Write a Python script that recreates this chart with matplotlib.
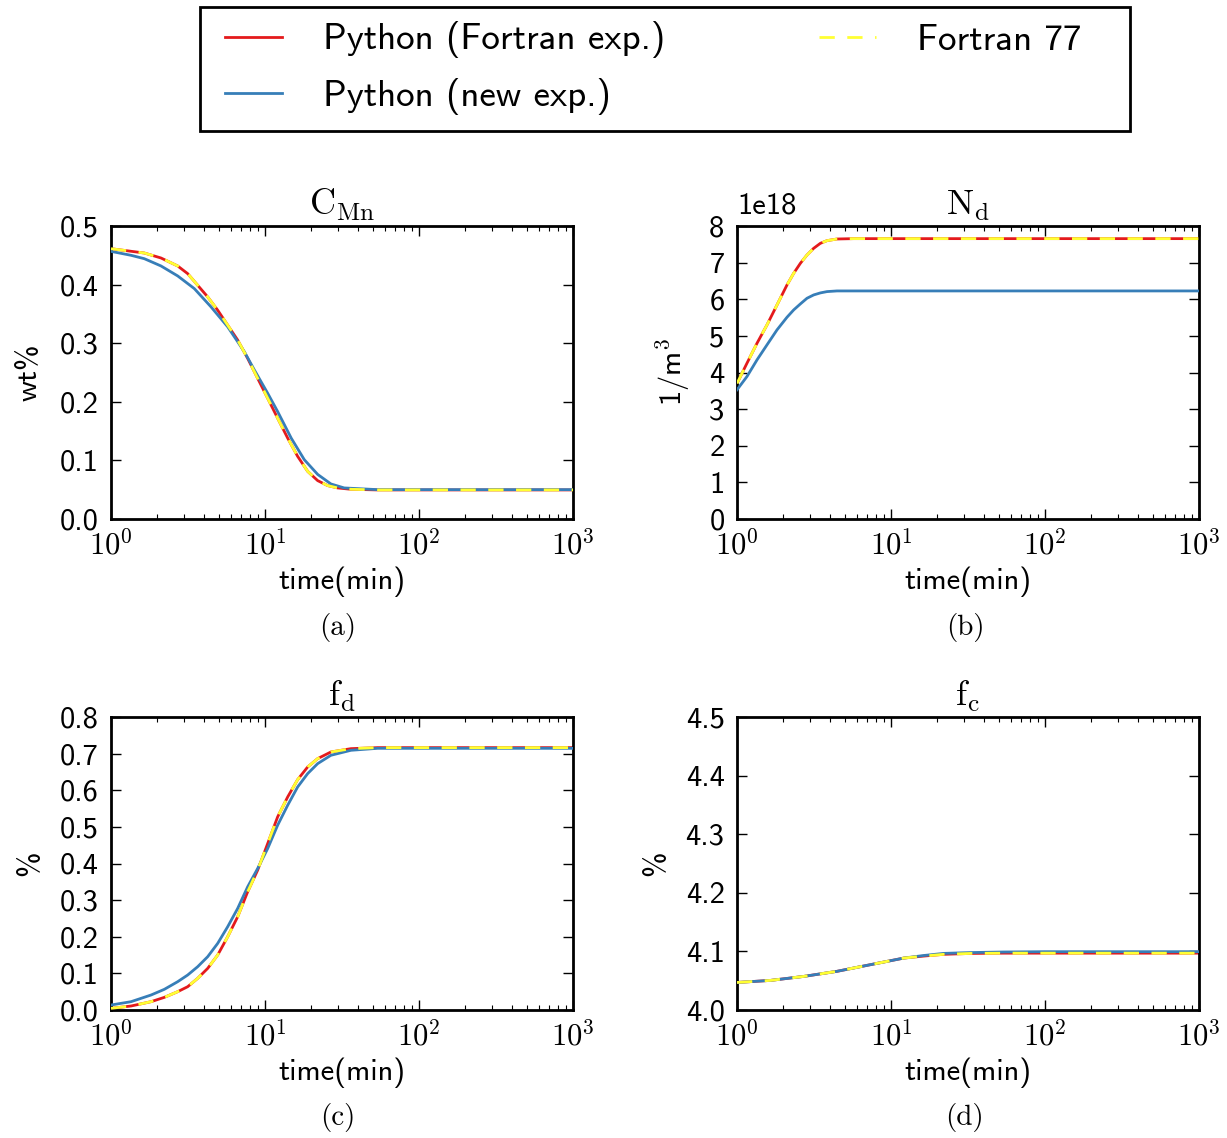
import math
import matplotlib
matplotlib.use("Agg")
import matplotlib.pyplot as plt
from matplotlib.ticker import FuncFormatter, NullFormatter, MultipleLocator
from matplotlib.lines import Line2D
from matplotlib.patches import Rectangle

plt.rcParams['font.family'] = ['cmss10', 'DejaVu Sans']
plt.rcParams['mathtext.fontset'] = 'cm'
plt.rcParams['axes.unicode_minus'] = False

# ---------------- data ----------------
# (a) C_Mn (wt%)
t_a_fortran = [1, 1.646, 2.112, 2.71, 3.147, 3.654, 4.244, 4.928, 5.722, 6.645, 7.716, 8.961,
               10.41, 12.08, 14.04, 16.30, 18.93, 21.98, 25.52, 29.64, 36.17, 53.9, 100, 1000]
cmn_fortran_exp = [0.4613, 0.4539, 0.4454, 0.4318, 0.4187, 0.3989, 0.3790, 0.3564, 0.3309,
                   0.3054, 0.2741, 0.2400, 0.2060, 0.1720, 0.1380, 0.1068, 0.0813, 0.0655,
                   0.0570, 0.0530, 0.0507, 0.0496, 0.0496, 0.0496]
cmn_f77 = [0.4613, 0.4539, 0.4454, 0.4318, 0.4187, 0.3989, 0.3790, 0.3564, 0.3309,
           0.3054, 0.2741, 0.2400, 0.2060, 0.1720, 0.1380, 0.1068, 0.0813, 0.0655,
           0.0570, 0.0530, 0.0507, 0.0496, 0.0496, 0.0496]
t_a_new = [1, 1.349, 1.646, 2.112, 2.71, 3.475, 4.46, 5.722, 7.34, 8.53, 10.41, 12.08,
           14.8, 18.0, 21.98, 26.8, 32.7, 53.9, 100, 1000]
cmn_new_exp = [0.4567, 0.4500, 0.4442, 0.4318, 0.4148, 0.3932, 0.3620, 0.3280, 0.2855,
               0.2543, 0.2146, 0.1834, 0.1380, 0.1012, 0.0761, 0.0598, 0.0530, 0.0501,
               0.0501, 0.0501]

# (b) N_d (1/m^3)
t_b = [1, 1.161, 1.349, 1.566, 1.819, 2.112, 2.334, 2.58, 2.848, 3.147, 3.477, 3.842,
       4.46, 5.72, 100, 1000]
nd_fortran_exp = [3.70e18, 4.255e18, 4.80e18, 5.30e18, 5.845e18, 6.391e18, 6.709e18, 6.982e18,
                  7.209e18, 7.391e18, 7.527e18, 7.60e18, 7.645e18, 7.655e18, 7.655e18, 7.655e18]
nd_f77 = [3.70e18, 4.255e18, 4.80e18, 5.30e18, 5.845e18, 6.391e18, 6.709e18, 6.982e18,
          7.209e18, 7.391e18, 7.527e18, 7.60e18, 7.645e18, 7.655e18, 7.655e18, 7.655e18]
nd_new_exp = [3.527e18, 3.891e18, 4.345e18, 4.755e18, 5.164e18, 5.509e18, 5.709e18, 5.873e18,
              6.027e18, 6.118e18, 6.173e18, 6.209e18, 6.227e18, 6.227e18, 6.227e18, 6.227e18]

# (c) f_d (%)
t_c = [1, 1.349, 1.819, 2.219, 2.71, 3.147, 3.654, 4.244, 4.928, 5.722, 6.645, 7.716, 8.961,
       10.41, 12.08, 14.04, 16.30, 18.93, 21.98, 26.80, 36.17, 53.9, 100, 1000]
fd_fortran_exp = [0.0045, 0.0109, 0.0227, 0.0345, 0.0500, 0.0636, 0.0864, 0.1136, 0.1500,
                  0.2000, 0.2545, 0.3227, 0.3818, 0.4545, 0.5273, 0.5818, 0.6291, 0.6636,
                  0.6864, 0.7045, 0.7136, 0.7164, 0.7164, 0.7164]
fd_f77 = [0.0045, 0.0109, 0.0227, 0.0345, 0.0500, 0.0636, 0.0864, 0.1136, 0.1500,
          0.2000, 0.2545, 0.3227, 0.3818, 0.4545, 0.5273, 0.5818, 0.6291, 0.6636,
          0.6864, 0.7045, 0.7136, 0.7164, 0.7164, 0.7164]
fd_new_exp = [0.0136, 0.0227, 0.0409, 0.0564, 0.0773, 0.0955, 0.1182, 0.1455, 0.1818,
              0.2273, 0.2773, 0.3364, 0.3864, 0.4409, 0.5045, 0.5591, 0.6091, 0.6455,
              0.6727, 0.6955, 0.7091, 0.7145, 0.7145, 0.7145]

# (d) f_c (%)
t_d = [1, 1.65, 2.71, 4.46, 7.34, 12.1, 16.3, 22.0, 32.7, 53.9, 100, 1000]
fc_fortran_exp = [4.047, 4.0505, 4.0573, 4.066, 4.0773, 4.0886, 4.092, 4.095, 4.0965, 4.097, 4.097, 4.097]
fc_f77 = [4.047, 4.0505, 4.0573, 4.066, 4.0773, 4.0886, 4.092, 4.095, 4.0965, 4.097, 4.097, 4.097]
fc_new_exp = [4.047, 4.0505, 4.0573, 4.066, 4.0773, 4.0886, 4.093, 4.0966, 4.098, 4.099, 4.0995, 4.0995]

labels = ["Python (Fortran exp.)", "Python (new exp.)", "Fortran 77"]
colors = ["#e41a1c", "#377eb8", "#ffff33"]
dash = (0, (5.5, 4.5))

# ---------------- figure ----------------
W, H = 1227, 1138
fig = plt.figure(figsize=(W / 100, H / 100), dpi=100)


def ax_at(l, r, t, b):
    return fig.add_axes([l / W, 1 - b / H, (r - l) / W, (b - t) / H])


axA = ax_at(111, 573, 226, 519)
axB = ax_at(737, 1199, 226, 519)
axC = ax_at(111, 573, 717, 1010)
axD = ax_at(737, 1199, 717, 1010)

panels = [
    (axA, t_a_fortran, cmn_fortran_exp, t_a_new, cmn_new_exp, cmn_f77, r'$\mathrm{C_{Mn}}$', 'wt%', (0, 0.5), 0.1),
    (axB, t_b, nd_fortran_exp, t_b, nd_new_exp, nd_f77, r'$\mathrm{N_{d}}$', r'1/m$^3$', (0, 8e18), 1e18),
    (axC, t_c, fd_fortran_exp, t_c, fd_new_exp, fd_f77, r'$\mathrm{f_{d}}$', '%', (0, 0.8), 0.1),
    (axD, t_d, fc_fortran_exp, t_d, fc_new_exp, fc_f77, r'$\mathrm{f_{c}}$', '%', (4.0, 4.5), 0.1),
]

for ax, tf, yf, tn, yn, y77, title, ylab, ylim, step in panels:
    ax.plot(tf, yf, color=colors[0], lw=2.0, zorder=2)
    ax.plot(tn, yn, color=colors[1], lw=2.0, zorder=3)
    ax.plot(tf, y77, color=colors[2], lw=2.0, ls=dash, zorder=4)
    ax.set_xscale('log')
    ax.set_xlim(1, 1000)
    ax.set_ylim(*ylim)
    ax.yaxis.set_major_locator(MultipleLocator(step))
    ax.xaxis.set_major_formatter(FuncFormatter(lambda v, p: r'$10^{%d}$' % round(math.log10(v))))
    ax.xaxis.set_minor_formatter(NullFormatter())
    ax.tick_params(which='both', direction='in', top=True, right=True, labelsize=22)
    ax.tick_params(which='major', length=7, width=1.0, pad=9)
    ax.tick_params(which='minor', length=3.6, width=0.8)
    ax.tick_params(axis='x', which='major', pad=7)
    for s in ax.spines.values():
        s.set_linewidth(2.0)
    ax.set_title(title, fontsize=26, pad=8)
    ax.set_xlabel('time(min)', fontsize=22, labelpad=5)
    ax.set_ylabel(ylab, fontsize=22, labelpad=12)

axB.yaxis.set_major_formatter(FuncFormatter(lambda v, p: '%d' % round(v / 1e18)))
fig.text(737 / W, 1 - 220 / H, '1e18', fontsize=22, ha='left', va='bottom')

for (x, y, cap) in [(338, 627, '(a)'), (965, 627, '(b)'), (338, 1118, '(c)'), (965, 1118, '(d)')]:
    fig.text(x / W, 1 - y / H, cap, fontsize=21, family='cmr10', ha='center', va='center')

# legend box
fig.add_artist(Rectangle((200 / W, 1 - 131 / H), 930 / W, 124 / H, transform=fig.transFigure,
                         facecolor='white', edgecolor='black', lw=2.0, zorder=0))

handles = [Line2D([], [], color=colors[0], lw=2.0),
           Line2D([], [], color=colors[1], lw=2.0),
           Line2D([], [], color=colors[2], lw=2.0, ls=dash)]
leg_fs = 26.7
fs_px = leg_fs * 100 / 72
leg = fig.legend(handles, labels, loc='upper left', bbox_to_anchor=(225 / W, 1 - 21.5 / H),
                 ncol=2, fontsize=leg_fs, frameon=False,
                 handlelength=57 / fs_px, handletextpad=41 / fs_px, columnspacing=154 / fs_px,
                 borderpad=0, labelspacing=0.52, borderaxespad=0)
leg.set_zorder(5)

fig.savefig('out.png', dpi=100)
